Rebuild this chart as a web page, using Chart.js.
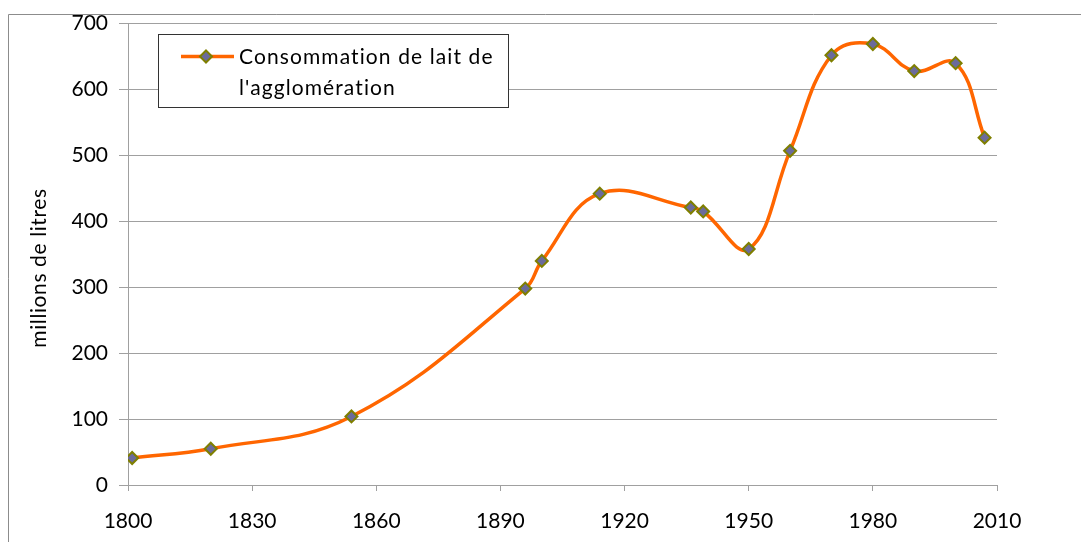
<!DOCTYPE html>
<html>
<head>
<meta charset="utf-8">
<script src="https://cdn.jsdelivr.net/npm/chart.js@4/dist/chart.umd.min.js"></script>
<style>
  html, body { margin: 0; padding: 0; background: #ffffff; }
  #wrap { position: relative; width: 1081px; height: 542px; }
  canvas { display: block; }
</style>
</head>
<body>
<div id="wrap"><canvas id="c" width="1081" height="542"></canvas></div>
<script>
// ---- data ----
const years  = [1801, 1820, 1854, 1896, 1900, 1914, 1936, 1939, 1950, 1960, 1970, 1980, 1990, 2000, 2007];
const values = [41,   55,   104,  298,  340,  442,  421,  415,  358,  507,  652,  669,  628,  640,  527];
const seriesLabel = ["Consommation de lait de", "l'agglomération"];
const yTitle = "millions de litres";
const yMin = 0, yMax = 700, yStep = 100;
const xMin = 1800, xMax = 2010, xStep = 30;

const FONT = "Lato";
const points = years.map((yr, i) => ({ x: yr, y: values[i] }));

const LINE_COLOR = "#ff6600";
const MARK_FILL = "#6b6b9b";
const MARK_EDGE = "#7f7f00";

function spacedText(ctx, text, x, y, spacing) {
  if ("letterSpacing" in ctx) {
    ctx.letterSpacing = spacing + "px";
    ctx.fillText(text, x, y);
    ctx.letterSpacing = "0px";
    return;
  }
  let cx = x;
  for (const ch of text) {
    ctx.fillText(ch, cx, y);
    cx += ctx.measureText(ch).width + spacing;
  }
}

const frame = {
  id: "frame",
  beforeDraw(chart) {
    const ctx = chart.ctx;
    ctx.save();
    ctx.strokeStyle = "#8c8c8c";
    ctx.lineWidth = 1;
    ctx.beginPath();
    ctx.moveTo(8.5, 545);
    ctx.lineTo(8.5, 14.5);
    ctx.lineTo(1085, 14.5);
    ctx.stroke();
    // y axis title
    ctx.translate(39, 268);
    ctx.rotate(-Math.PI / 2);
    ctx.fillStyle = "#000000";
    ctx.font = "21px " + FONT;
    ctx.textAlign = "center";
    ctx.textBaseline = "middle";
    if ("letterSpacing" in ctx) ctx.letterSpacing = "0.6px";
    ctx.fillText(yTitle, 0, 0);
    if ("letterSpacing" in ctx) ctx.letterSpacing = "0px";
    ctx.restore();
  }
};

const boxLegend = {
  id: "boxLegend",
  afterDraw(chart) {
    const ctx = chart.ctx;
    ctx.save();
    const bx = 158.5, by = 34.5, bw = 350, bh = 73;
    ctx.fillStyle = "#ffffff";
    ctx.fillRect(bx, by, bw, bh);
    ctx.strokeStyle = "#333333";
    ctx.lineWidth = 1;
    ctx.strokeRect(bx, by, bw, bh);
    // line sample
    const ly = 56.5;
    ctx.strokeStyle = LINE_COLOR;
    ctx.lineWidth = 3.5;
    ctx.beginPath();
    ctx.moveTo(181, ly);
    ctx.lineTo(234, ly);
    ctx.stroke();
    // diamond marker
    const mx = 206, r = 6;
    ctx.beginPath();
    ctx.moveTo(mx, ly - r);
    ctx.lineTo(mx + r, ly);
    ctx.lineTo(mx, ly + r);
    ctx.lineTo(mx - r, ly);
    ctx.closePath();
    ctx.fillStyle = MARK_FILL;
    ctx.fill();
    ctx.strokeStyle = MARK_EDGE;
    ctx.lineWidth = 2;
    ctx.stroke();
    // text
    ctx.fillStyle = "#000000";
    ctx.font = "21px " + FONT;
    ctx.textAlign = "left";
    ctx.textBaseline = "middle";
    spacedText(ctx, seriesLabel[0], 239, 57, 1.1);
    spacedText(ctx, seriesLabel[1], 239, 88, 1.1);
    ctx.restore();
  }
};

new Chart(document.getElementById("c"), {
  type: "line",
  data: {
    datasets: [{
      label: seriesLabel.join(" "),
      data: points,
      borderColor: LINE_COLOR,
      borderWidth: 3.5,
      tension: 0.4,
      pointStyle: "rectRot",
      pointRadius: 6,
      pointBorderWidth: 2,
      pointBackgroundColor: MARK_FILL,
      pointBorderColor: MARK_EDGE,
      fill: false
    }]
  },
  options: {
    responsive: false,
    animation: false,
    devicePixelRatio: 1,
    layout: { padding: { left: 0, right: 84, top: 22, bottom: 0 } },
    plugins: { legend: { display: false }, tooltip: { enabled: false } },
    scales: {
      x: {
        type: "linear",
        min: xMin, max: xMax,
        ticks: {
          stepSize: xStep,
          color: "#000000",
          font: { family: FONT, size: 21 },
          padding: 18,
          maxRotation: 0,
          callback: v => String(v)
        },
        grid: { drawOnChartArea: false, color: "#a0a0a0", tickLength: 6 },
        border: { color: "#a0a0a0" },
        afterFit(s) { s.height = 57; }
      },
      y: {
        min: yMin, max: yMax,
        ticks: {
          stepSize: yStep,
          color: "#000000",
          font: { family: FONT, size: 21 },
          padding: 11,
          callback: v => String(v)
        },
        grid: { color: "#a0a0a0", tickLength: 9 },
        border: { color: "#a0a0a0" },
        afterFit(s) { s.width = 128; }
      }
    }
  },
  plugins: [frame, boxLegend]
});
</script>
</body>
</html>
